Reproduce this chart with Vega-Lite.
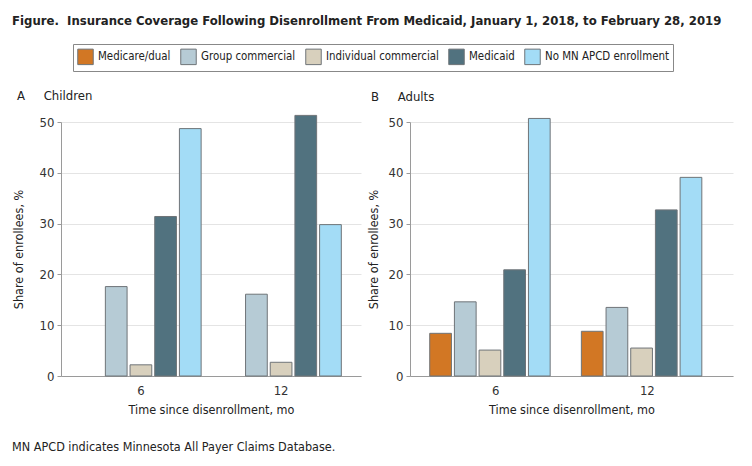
{
  "$schema": "https://vega.github.io/schema/vega-lite/v6.json",
  "padding": {"left": 12, "top": 14, "right": 5, "bottom": 5},
  "title": {
    "text": "Figure.\u00a0 Insurance Coverage Following Disenrollment From Medicaid, January 1, 2018, to February 28, 2019",
    "anchor": "start",
    "frame": "bounds",
    "font": "DejaVu Sans Condensed, sans-serif",
    "fontSize": 13,
    "fontWeight": "bold",
    "color": "#222",
    "offset": 16
  },
  "datasets": {
    "cov": [
      {"panel": "Children", "month": "6", "type": "Group commercial", "value": 17.6},
      {"panel": "Children", "month": "6", "type": "Individual commercial", "value": 2.2},
      {"panel": "Children", "month": "6", "type": "Medicaid", "value": 31.4},
      {"panel": "Children", "month": "6", "type": "No MN APCD enrollment", "value": 48.7},
      {"panel": "Children", "month": "12", "type": "Group commercial", "value": 16.1},
      {"panel": "Children", "month": "12", "type": "Individual commercial", "value": 2.7},
      {"panel": "Children", "month": "12", "type": "Medicaid", "value": 51.3},
      {"panel": "Children", "month": "12", "type": "No MN APCD enrollment", "value": 29.8},
      {"panel": "Adults", "month": "6", "type": "Medicare/dual", "value": 8.4},
      {"panel": "Adults", "month": "6", "type": "Group commercial", "value": 14.6},
      {"panel": "Adults", "month": "6", "type": "Individual commercial", "value": 5.1},
      {"panel": "Adults", "month": "6", "type": "Medicaid", "value": 20.9},
      {"panel": "Adults", "month": "6", "type": "No MN APCD enrollment", "value": 50.7},
      {"panel": "Adults", "month": "12", "type": "Medicare/dual", "value": 8.8},
      {"panel": "Adults", "month": "12", "type": "Group commercial", "value": 13.5},
      {"panel": "Adults", "month": "12", "type": "Individual commercial", "value": 5.5},
      {"panel": "Adults", "month": "12", "type": "Medicaid", "value": 32.7},
      {"panel": "Adults", "month": "12", "type": "No MN APCD enrollment", "value": 39.1}
    ]
  },
  "vconcat": [
    {
      "title": {
        "text": "MN APCD indicates Minnesota All Payer Claims Database.",
        "orient": "bottom",
        "anchor": "start",
        "frame": "bounds",
        "fontSize": 12.5,
        "fontWeight": "normal",
        "color": "#222",
        "offset": 25
      },
      "spacing": 6,
      "hconcat": [
        {
          "title": {"text": "A\u00a0\u00a0\u00a0\u00a0\u00a0Children", "dx": 5},
          "width": 300,
          "height": 254,
          "data": {"name": "cov"},
          "transform": [{"filter": "datum.panel === 'Children'"}],
          "mark": {"type": "bar", "stroke": "#6f7478", "strokeWidth": 1},
          "encoding": {
            "x": {"field": "month", "type": "nominal", "sort": ["6", "12"],
                  "scale": {"paddingInner": 0, "paddingOuter": 0.07},
                  "axis": {"title": "Time since disenrollment, mo", "labelAngle": 0}},
            "xOffset": {"field": "type", "type": "nominal",
                        "sort": ["Medicare/dual", "Group commercial", "Individual commercial", "Medicaid", "No MN APCD enrollment"],
                        "scale": {"domain": ["Medicare/dual", "Group commercial", "Individual commercial", "Medicaid", "No MN APCD enrollment"], "paddingInner": 0.12, "paddingOuter": 0.4}},
            "y": {"field": "value", "type": "quantitative",
                  "scale": {"domain": [0, 50]},
                  "axis": {"title": "Share of enrollees, %", "values": [0, 10, 20, 30, 40, 50], "titlePadding": 14}},
            "color": {"field": "type", "type": "nominal",
                      "scale": {"domain": ["Medicare/dual", "Group commercial", "Individual commercial", "Medicaid", "No MN APCD enrollment"],
                                "range": ["#D27724", "#B6CBD5", "#D8D0BD", "#51727F", "#A3DCF6"]},
                      "legend": {"title": null}}
          }
        },
        {
          "title": {"text": "B\u00a0\u00a0\u00a0\u00a0\u00a0Adults", "dx": 4},
          "width": 323,
          "height": 254,
          "data": {"name": "cov"},
          "transform": [{"filter": "datum.panel === 'Adults'"}],
          "mark": {"type": "bar", "stroke": "#6f7478", "strokeWidth": 1},
          "encoding": {
            "x": {"field": "month", "type": "nominal", "sort": ["6", "12"],
                  "scale": {"paddingInner": 0, "paddingOuter": 0.065},
                  "axis": {"title": "Time since disenrollment, mo", "labelAngle": 0}},
            "xOffset": {"field": "type", "type": "nominal",
                        "sort": ["Medicare/dual", "Group commercial", "Individual commercial", "Medicaid", "No MN APCD enrollment"],
                        "scale": {"domain": ["Medicare/dual", "Group commercial", "Individual commercial", "Medicaid", "No MN APCD enrollment"], "paddingInner": 0.13, "paddingOuter": 0.39}},
            "y": {"field": "value", "type": "quantitative",
                  "scale": {"domain": [0, 50]},
                  "axis": {"title": "Share of enrollees, %", "values": [0, 10, 20, 30, 40, 50]}},
            "color": {"field": "type", "type": "nominal",
                      "scale": {"domain": ["Medicare/dual", "Group commercial", "Individual commercial", "Medicaid", "No MN APCD enrollment"],
                                "range": ["#D27724", "#B6CBD5", "#D8D0BD", "#51727F", "#A3DCF6"]},
                      "legend": {"title": null}}
          }
        }
      ]
    }
  ],
  "config": {
    "font": "DejaVu Sans Condensed, sans-serif",
    "view": {"stroke": null},
    "title": {"anchor": "start", "frame": "bounds", "fontSize": 13, "fontWeight": "normal", "color": "#222", "offset": 12},
    "axis": {"labelFontSize": 13, "titleFontSize": 12.5, "titleFontWeight": "normal", "labelColor": "#333", "titleColor": "#222", "domainColor": "#9a9a9a", "tickColor": "#9a9a9a", "gridColor": "#e4e4e4"},
    "axisX": {"ticks": false, "grid": false, "labelPadding": 8, "titlePadding": 6},
    "axisY": {"tickSize": 4, "labelPadding": 3, "titlePadding": 8, "domain": true},
    "legend": {
      "orient": "top",
      "direction": "horizontal",
      "strokeColor": "#888",
      "padding": 4,
      "symbolType": "square",
      "symbolSize": 240,
      "symbolStrokeColor": "#6f7478",
      "symbolStrokeWidth": 1,
      "labelFontSize": 11.4,
      "labelOffset": 4,
      "labelColor": "#222",
      "columnPadding": 7,
      "offset": 18,
      "layout": {"top": {"anchor": "middle"}}
    }
  }
}
